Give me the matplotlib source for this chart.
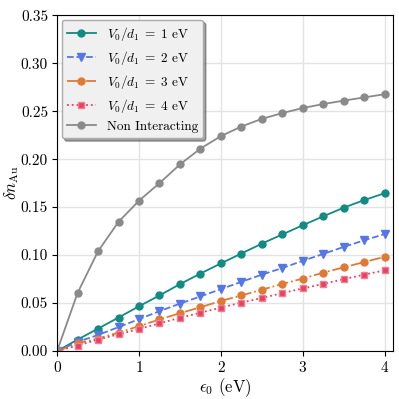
import numpy as np
import matplotlib
matplotlib.use("Agg")
import matplotlib.pyplot as plt

plt.rcParams["font.family"] = "serif"
plt.rcParams["font.serif"] = ["cmr10", "DejaVu Serif"]
plt.rcParams["mathtext.fontset"] = "cm"
plt.rcParams["axes.formatter.use_mathtext"] = True
plt.rcParams["axes.unicode_minus"] = False

################### Data

eps0 = [0, 0.25, 0.5, 0.75, 1.0, 1.25, 1.5, 1.75, 2.0,
        2.25, 2.5, 2.75, 3.0, 3.25, 3.5, 3.75, 4.0]

dn_V1 = [0, 0.012, 0.0234, 0.035, 0.0467, 0.058, 0.0698, 0.0808, 0.0914,
         0.1017, 0.112, 0.1216, 0.1312, 0.1405, 0.1495, 0.1574, 0.1646]
dn_V2 = [0, 0.0096, 0.0168, 0.025, 0.0333, 0.0416, 0.0495, 0.057, 0.0646,
         0.0722, 0.0797, 0.0866, 0.0941, 0.1013, 0.1086, 0.1155, 0.122]
dn_V3 = [0, 0.008, 0.0131, 0.0193, 0.026, 0.033, 0.0395, 0.0457, 0.0523,
         0.058, 0.064, 0.070, 0.0756, 0.0818, 0.0873, 0.0928, 0.0983]
dn_V4 = [0, 0.0058, 0.012, 0.0175, 0.023, 0.0289, 0.0347, 0.040, 0.0454,
         0.0505, 0.0554, 0.0605, 0.0653, 0.070, 0.075, 0.0797, 0.0842]
dn_free = [0, 0.0605, 0.104, 0.1347, 0.1567, 0.175, 0.1945, 0.211, 0.224,
           0.234, 0.242, 0.248, 0.2533, 0.2574, 0.261, 0.2643, 0.2677]

labels = [r"$V_0/d_1\;=\;1$ eV", r"$V_0/d_1\;=\;2$ eV",
          r"$V_0/d_1\;=\;3$ eV", r"$V_0/d_1\;=\;4$ eV", "Non Interacting"]

################### Plot

fig, ax = plt.subplots(figsize=(3.99, 3.99), dpi=100)

ax.plot(eps0, dn_V1, "-", marker="o", color="#138a82", ms=5, lw=1.3, label=labels[0])
ax.plot(eps0, dn_V2, "--", marker="v", color="#5577e6", ms=5.5, lw=1.3, label=labels[1])
ax.plot(eps0, dn_V3, "-.", marker="o", color="#de7a36", ms=5, lw=1.3, label=labels[2])
ax.plot(eps0, dn_V4, ":", marker="s", color="#e8405e", ms=4.8, lw=1.3,
        mfc="#e8405e", mec="#f07f95", label=labels[3])
ax.plot(eps0, dn_free, "-", marker="o", color="#8a8a8a", ms=5, lw=1.3, label=labels[4])

ax.set_xlim(0, 4.1)
ax.set_ylim(0, 0.35)
ax.set_xticks([0, 1, 2, 3, 4])
ax.set_yticks(np.arange(0, 0.351, 0.05))
ax.yaxis.set_major_formatter(matplotlib.ticker.FormatStrFormatter("%.2f"))
ax.tick_params(labelsize=11, pad=3)
ax.grid(True, color="#e3e3e3", lw=1)
ax.set_axisbelow(True)

ax.set_xlabel(r"$\epsilon_0$ (eV)", fontsize=12, labelpad=1)
ax.set_ylabel(r"$\delta n_{\rm Au}$", fontsize=12, labelpad=0)

leg = ax.legend(loc="upper left", fontsize=9.5, shadow=True, fancybox=True,
                framealpha=1, facecolor="#f0f0f0", edgecolor="#aaaaaa",
                labelspacing=0.45, handlelength=2.2, borderaxespad=0.35)

plt.subplots_adjust(left=0.143, right=0.985, top=0.962, bottom=0.12)
plt.savefig("out.png", dpi=100)
